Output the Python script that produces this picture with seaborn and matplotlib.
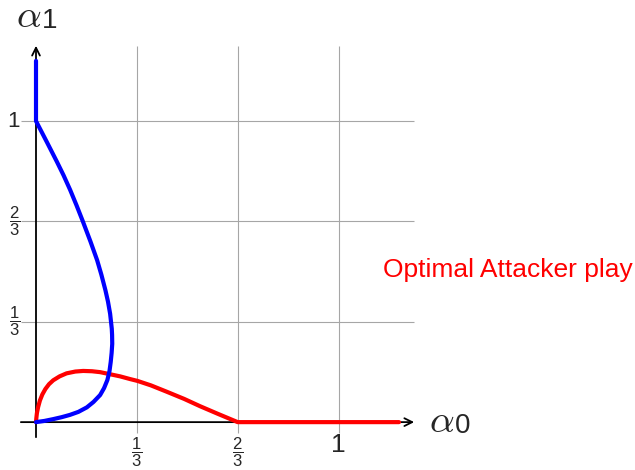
import matplotlib
matplotlib.use("Agg")
import matplotlib.pyplot as plt
import seaborn as sns
import pandas as pd

# curves (alpha_0, alpha_1)
blue_x = [0, 0.028, 0.057, 0.085, 0.112, 0.14, 0.168, 0.19, 0.212, 0.225, 0.236, 0.243,
          0.247, 0.25, 0.252, 0.2515, 0.2505, 0.245, 0.238, 0.2295, 0.216, 0.202, 0.180,
          0.154, 0.134, 0.113, 0.091, 0.069, 0.036, 0, 0]
blue_y = [0, 0.004, 0.010, 0.0165, 0.024, 0.034, 0.049, 0.067, 0.09, 0.113, 0.14, 0.17,
          0.2, 0.23, 0.26, 0.29, 0.31, 0.36, 0.40, 0.438, 0.49, 0.538, 0.60,
          0.669, 0.72, 0.771, 0.82, 0.865, 0.93, 1.0, 1.2]

red_x = [0, 0.001, 0.003, 0.007, 0.013, 0.021, 0.031, 0.043, 0.057, 0.078, 0.101, 0.13,
         0.156, 0.185, 0.212, 0.245, 0.278, 0.311, 0.335, 0.38, 0.432, 0.49, 0.542, 0.6,
         2 / 3, 1.2]
red_y = [0, 0.012, 0.03, 0.05, 0.072, 0.092, 0.11, 0.126, 0.139, 0.152, 0.162, 0.168,
         0.170, 0.169, 0.166, 0.159, 0.152, 0.143, 0.137, 0.122, 0.101, 0.077, 0.053, 0.028,
         0, 0]

grid_ticks = [1 / 3, 2 / 3, 1]
x_tick_labels = [r'$\dfrac{1}{3}$', r'$\dfrac{2}{3}$', '1']
y_tick_labels = [r'$\dfrac{1}{3}$', r'$\dfrac{2}{3}$', '1']

sns.set_style("white")
plt.rcParams['font.family'] = ['Liberation Sans', 'DejaVu Sans']
plt.rcParams['mathtext.fontset'] = 'custom'
plt.rcParams['mathtext.rm'] = 'Liberation Sans'
plt.rcParams['mathtext.it'] = 'Liberation Sans:italic'

fig = plt.figure(figsize=(6.35, 4.7), dpi=100)
ax = fig.add_axes([0, 0, 1, 1])
ax.set_xlim(-0.119, 1.980)
ax.set_ylim(-0.159, 1.402)
ax.axis('off')

# grid
grid_color = '#a6a6a6'
ax.vlines(grid_ticks, -0.035, 1.25, color=grid_color, lw=0.8, zorder=1)
ax.hlines(grid_ticks, -0.05, 1.25, color=grid_color, lw=0.8, zorder=1)

# axes with arrows
arrow = dict(arrowstyle='->', color='black', lw=1.3, shrinkA=0, shrinkB=0, mutation_scale=14)
ax.annotate('', xy=(1.25, 0), xytext=(-0.05, 0), arrowprops=arrow, zorder=2)
ax.annotate('', xy=(0, 1.25), xytext=(0, -0.05), arrowprops=arrow, zorder=2)

red_df = pd.DataFrame({'a0': red_x, 'a1': red_y})
blue_df = pd.DataFrame({'a0': blue_x, 'a1': blue_y})
sns.lineplot(data=red_df, x='a0', y='a1', sort=False, estimator=None, color='#ff0000',
             lw=3, ax=ax, zorder=3)
sns.lineplot(data=blue_df, x='a0', y='a1', sort=False, estimator=None, color='#0000ff',
             lw=3, ax=ax, zorder=4)

# tick labels
for t, lab in zip(grid_ticks, x_tick_labels):
    if lab == '1':
        ax.text(t, -0.076, lab, ha='center', va='center', fontsize=19)
    else:
        ax.text(t, -0.10, lab, ha='center', va='center', fontsize=12)
for t, lab in zip(grid_ticks, y_tick_labels):
    if lab == '1':
        ax.text(-0.073, t, lab, ha='center', va='center', fontsize=16)
    else:
        ax.text(-0.072, t, lab, ha='center', va='center', fontsize=12)

# axis labels
ax.text(1.298, 0.0, r'$\alpha$', ha='left', va='center', fontsize=28, math_fontfamily='cm')
ax.text(1.385, -0.012, '0', ha='left', va='center', fontsize=20)
ax.text(-0.067, 1.345, r'$\alpha$', ha='left', va='center', fontsize=28, math_fontfamily='cm')
ax.text(0.02, 1.332, '1', ha='left', va='center', fontsize=20)

ax.text(1.147, 0.505, 'Optimal Attacker play', color='#ff0000', ha='left', va='center',
        fontsize=19)

fig.savefig('out.png', dpi=100)
